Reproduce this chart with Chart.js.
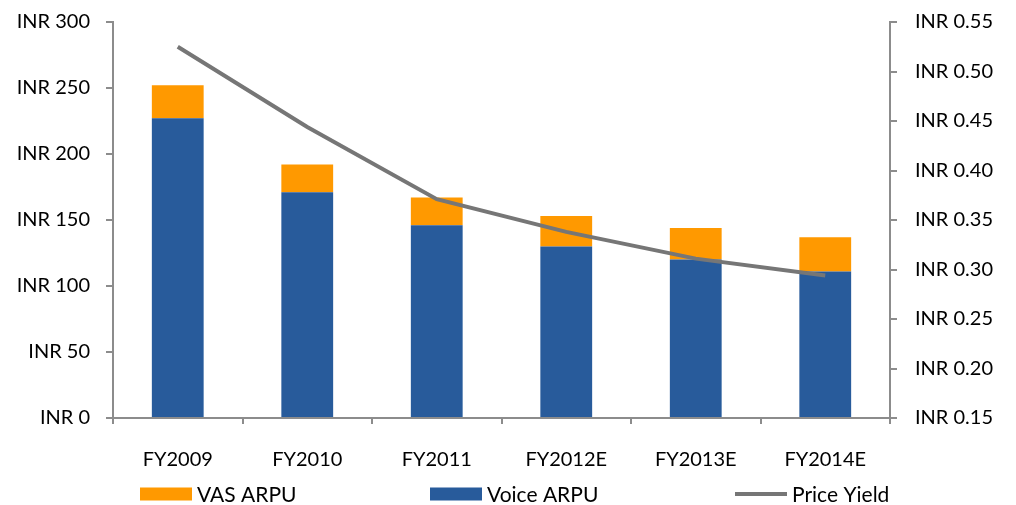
<!DOCTYPE html>
<html>
<head>
<meta charset="utf-8">
<script src="https://cdn.jsdelivr.net/npm/chart.js@4.4.1/dist/chart.umd.min.js"></script>
<style>
  html, body { margin: 0; padding: 0; background: #ffffff; }
  #wrap { width: 1016px; height: 505px; position: relative; }
</style>
</head>
<body>
<div id="wrap"><canvas id="c" width="1016" height="505"></canvas></div>
<script>
// Fiscal years (E = estimate)
const categories = ['FY2009', 'FY2010', 'FY2011', 'FY2012E', 'FY2013E', 'FY2014E'];
// ARPU components, INR per month
const voiceArpu = [227, 171, 146, 130, 120, 111];
const vasArpu = [25, 21, 21, 23, 24, 26];
// Price yield, INR per minute
const priceYield = [0.525, 0.444, 0.371, 0.338, 0.311, 0.294];

const leftTicks = [0, 50, 100, 150, 200, 250, 300];
const rightTicks = [0.15, 0.20, 0.25, 0.30, 0.35, 0.40, 0.45, 0.50, 0.55];

const FONT = 'Lato, "Open Sans", sans-serif';
const AXIS_COLOR = '#8c8c8c';
const ORANGE = '#ff9900';
const BLUE = '#285b9b';
const GREY = '#767676';

// Legend drawn along the bottom edge, in VAS / Voice / Price Yield order
const bottomLegend = {
  id: 'bottomLegend',
  afterDraw(chart) {
    const ctx = chart.ctx;
    const items = [
      { label: chart.data.datasets[1].label, color: ORANGE, kind: 'box', x: 140 },
      { label: chart.data.datasets[0].label, color: BLUE, kind: 'box', x: 430 },
      { label: chart.data.datasets[2].label, color: GREY, kind: 'line', x: 735 }
    ];
    const boxW = 52, boxH = 13, gap = 5;
    ctx.save();
    ctx.font = '21px ' + FONT;
    ctx.textBaseline = 'middle';
    ctx.textAlign = 'left';
    const cy = 494;
    items.forEach(it => {
      if (it.kind === 'box') {
        ctx.fillStyle = it.color;
        ctx.fillRect(it.x, cy - boxH / 2, boxW, boxH);
      } else {
        ctx.strokeStyle = it.color;
        ctx.lineWidth = 4;
        ctx.beginPath();
        ctx.moveTo(it.x, cy);
        ctx.lineTo(it.x + boxW, cy);
        ctx.stroke();
      }
      ctx.fillStyle = '#000000';
      ctx.fillText(it.label, it.x + boxW + gap, cy + 1);
    });
    ctx.restore();
  }
};

// Keep the plot frame fixed: no extra room reserved for overhanging tick labels
function noOverhang(s) { s.paddingTop = 0; s.paddingBottom = 0; }

new Chart(document.getElementById('c'), {
  type: 'bar',
  data: {
    labels: categories,
    datasets: [
      { label: 'Voice ARPU', data: voiceArpu, backgroundColor: BLUE, yAxisID: 'y', order: 1, stack: 'arpu' },
      { label: 'VAS ARPU', data: vasArpu, backgroundColor: ORANGE, yAxisID: 'y', order: 1, stack: 'arpu' },
      { type: 'line', label: 'Price Yield', data: priceYield, borderColor: GREY, borderWidth: 4,
        pointRadius: 0, tension: 0, fill: false, yAxisID: 'y1', order: 0 }
    ]
  },
  options: {
    responsive: false,
    animation: false,
    devicePixelRatio: 1,
    layout: { padding: { top: 22, bottom: 27, left: 0, right: 0 } },
    categoryPercentage: 1,
    barPercentage: 0.4,
    plugins: { legend: { display: false }, tooltip: { enabled: false } },
    scales: {
      x: {
        stacked: true,
        grid: { display: true, drawOnChartArea: false, offset: true, color: AXIS_COLOR, tickLength: 6, lineWidth: 2 },
        border: { color: AXIS_COLOR, width: 2 },
        ticks: { color: '#000000', font: { family: FONT, size: 20 }, padding: 24, maxRotation: 0 },
        afterFit(s) { s.height = 60; s.paddingLeft = 0; s.paddingRight = 0; }
      },
      y: {
        stacked: true,
        position: 'left',
        min: 0, max: 300,
        afterBuildTicks(s) { s.ticks = leftTicks.map(v => ({ value: v })); },
        grid: { display: true, drawOnChartArea: false, color: AXIS_COLOR, tickLength: 7, lineWidth: 2 },
        border: { color: AXIS_COLOR, width: 2 },
        ticks: { color: '#000000', font: { family: FONT, size: 20 }, padding: 16,
          callback: v => 'INR ' + v },
        afterFit(s) { s.width = 113; noOverhang(s); }
      },
      y1: {
        position: 'right',
        min: 0.15, max: 0.55,
        afterBuildTicks(s) { s.ticks = rightTicks.map(v => ({ value: v })); },
        grid: { display: true, drawOnChartArea: false, color: AXIS_COLOR, tickLength: 7, lineWidth: 2 },
        border: { color: AXIS_COLOR, width: 2 },
        ticks: { color: '#000000', font: { family: FONT, size: 20 }, padding: 18,
          callback: v => 'INR ' + Number(v).toFixed(2) },
        afterFit(s) { s.width = 126; noOverhang(s); }
      }
    }
  },
  plugins: [bottomLegend]
});
</script>
</body>
</html>
